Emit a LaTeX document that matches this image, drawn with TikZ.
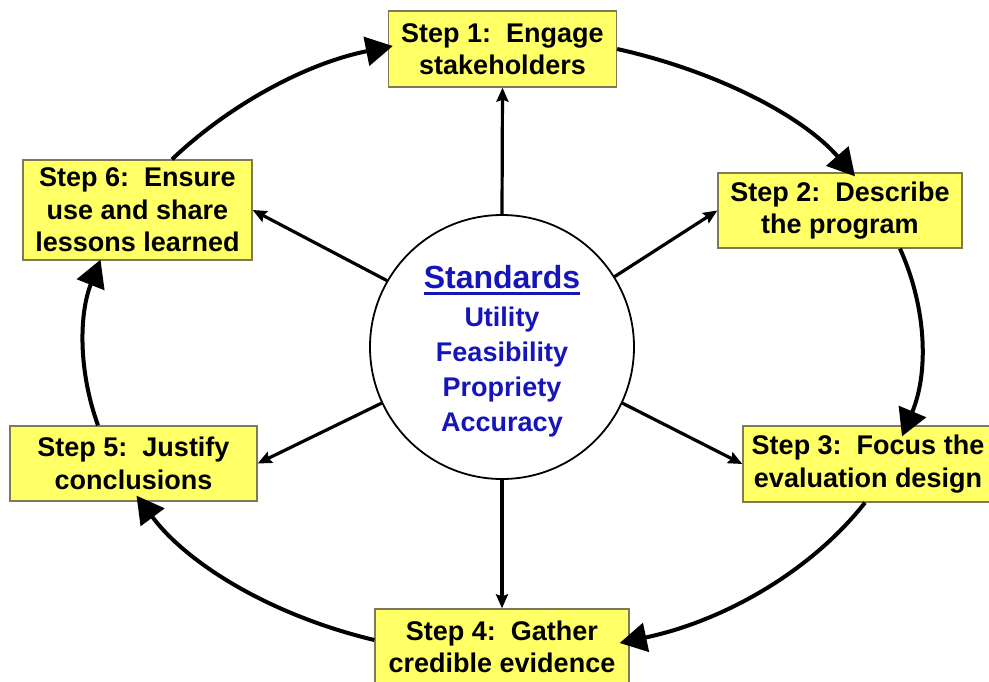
\documentclass[tikz,border=0pt]{standalone}
\usepackage{fontspec}
\setmainfont{Liberation Sans}
\usetikzlibrary{arrows.meta,calc}
\definecolor{boxfill}{HTML}{FFFF66}
\definecolor{boxedge}{HTML}{7F7A55}
\definecolor{stdblue}{HTML}{1515B8}
\newcommand{\stepfont}{\bfseries\fontsize{27}{32.5}\selectfont}
\newcommand{\stdfont}{\bfseries\fontsize{27}{32}\selectfont}
\newcommand{\headfont}{\bfseries\fontsize{32}{38}\selectfont}
\tikzset{
  stepbox/.style={draw=boxedge, line width=1.3pt, fill=boxfill, align=center, font=\stepfont, inner sep=0pt},
  cyc/.style={line width=4pt, -{Triangle[length=27pt,width=29pt]}},
  spoke/.style={line width=3.2pt, -{Stealth[length=14pt,width=12pt,inset=2pt]}},
  stdtext/.style={anchor=base, inner sep=0pt, text=stdblue, font=\stdfont}
}
\begin{document}
\begin{tikzpicture}[x=1pt,y=-1pt]
\useasboundingbox (0,0) rectangle (989,681);
\clip (0,0) rectangle (989,681);
\fill[white] (0,0) rectangle (989,681);

\node[stepbox, minimum width=228pt, minimum height=76pt] (s1) at (502.5,49) {Step 1:\ \ Engage\\stakeholders};
\node[stepbox, minimum width=244pt, minimum height=75pt] (s2) at (840,210.5) {Step 2:\ \ Describe\\the program};
\node[stepbox, minimum width=250pt, minimum height=76pt] (s3) at (868,464) {Step 3:\ \ Focus the\\evaluation design};
\node[stepbox, minimum width=254pt, minimum height=76pt] (s4) at (502,647) {Step 4:\ \ Gather\\credible evidence};
\node[stepbox, minimum width=247pt, minimum height=75pt] (s5) at (133.5,463.5) {Step 5:\ \ Justify\\conclusions};
\node[stepbox, minimum width=229pt, minimum height=100pt] (s6) at (137.5,210) {Step 6:\ \ Ensure\\use and share\\lessons learned};

\node[draw, circle, fill=white, line width=1.8pt, minimum size=264pt, inner sep=0pt] (c) at (502,347) {};
\node[anchor=base, inner sep=0pt, text=stdblue, font=\headfont] (std) at (502,288) {Standards};
\draw[stdblue, line width=2.8pt] ($(std.base west)+(0,5.5)$) -- ($(std.base east)+(0,5.5)$);
\node[stdtext] (u) at (502,326) {Utility};
\node[stdtext] (f) at (502,361) {Feasibility};
\node[stdtext] (p) at (502,396) {Propriety};
\node[stdtext] (a) at (502,431) {Accuracy};

\draw[spoke] (c.north) -- (s1.south);
\draw[spoke] (c.32) -- (s2.west);
\draw[spoke] (c.-25) -- (s3.west);
\draw[spoke] (c.south) -- (s4.north);
\draw[spoke] (c.205) -- (s5.east);
\draw[spoke] (c.150) -- (s6.east);

\draw[cyc] ($(s6.north)+(34.5,0)$) .. controls +(55.9,-53.3) and +(-88.1,17.6) .. ($(s1.west)+(5,-3)$);
\draw[cyc] (s1.east) .. controls +(95.6,21.2) and +(-54,-62) .. ($(s2.north)+(15,4)$);
\draw[cyc] ($(s2.south)+(60,0)$) .. controls +(27.7,61.6) and +(26.1,-62) .. ($(s3.north)+(34,11)$);
\draw[cyc] ($(s3.south)+(-3,0)$) .. controls +(-54.4,69.1) and +(103.9,-22) .. ($(s4.east)+(-10,-4)$);
\draw[cyc] ($(s4.west)+(0,-7)$) .. controls +(-101.7,-24.2) and +(51.6,69.2) .. ($(s5.south)+(3,-6)$);
\draw[cyc] ($(s5.north)+(-35.5,0)$) .. controls +(-19.8,-54.8) and +(-21.5,54.4) .. ($(s6.south)+(-37,-1)$);
\end{tikzpicture}
\end{document}
